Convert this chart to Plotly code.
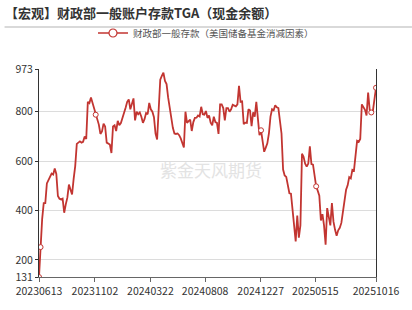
import pandas as pd
import plotly.graph_objects as go

# ---------------- data ----------------
start_date = "2023-06-13"
step = "4D"

seg_2023a = [131, 252, 365, 430, 430, 510, 522, 538, 550, 546, 570, 548, 459, 448, 445, 448,
             391, 425, 452, 505, 484, 465, 528, 580, 670, 674, 680, 675, 678, 700, 690, 840,
             835, 858, 836, 815, 788, 775, 748]
seg_2023b = [710, 720, 752, 740, 675, 670, 667, 633, 740, 745, 722, 763, 746, 754, 772, 790,
             816, 840, 850, 810, 828, 854, 765, 800, 790, 797, 780, 755, 770, 795, 790, 836,
             810, 800, 778, 712, 688, 800]
seg_2024a = [930, 945, 958, 925, 912, 858, 812, 780, 735, 712, 710, 712, 705, 692, 670, 655,
             800, 755, 762, 768, 722, 758, 775, 776, 785, 781, 820, 790, 788, 803, 775, 785,
             756, 745, 780, 758, 755, 710, 830]
seg_2024b = [830, 815, 765, 815, 815, 800, 810, 828, 825, 822, 830, 905, 840, 842, 750, 756,
             755, 810, 805, 742, 798, 780, 840, 782, 705, 725, 676, 638, 655, 672, 712, 780,
             810, 806, 826, 818, 815]
seg_2025a = [770, 712, 566, 542, 536, 505, 470, 468, 400, 362, 275, 380, 290, 340, 630, 618,
             590, 578, 590, 660, 588, 586, 540, 498, 480, 460, 360, 385, 340, 262, 410, 375,
             340, 430, 355, 322, 298, 320]
seg_2025b = [330, 350, 392, 440, 484, 502, 535, 530, 565, 562, 615, 682, 678, 690, 830, 819,
             808, 785, 878, 808, 797, 802, 860, 897]

values = seg_2023a + seg_2023b + seg_2024a + seg_2024b + seg_2025a + seg_2025b
dates = pd.date_range(start_date, periods=len(values), freq=step)
series = pd.Series(values, index=dates)

marker_dates = ["2023-06-13", "2023-06-17", "2023-11-04", "2024-12-28",
                "2025-05-17", "2025-10-04", "2025-10-16"]
tick_dates = ["2023-06-13", "2023-11-02", "2024-03-22", "2024-08-08",
              "2024-12-27", "2025-05-15", "2025-10-16"]
tick_labels = ["20230613", "20231102", "20240322", "20240808",
               "20241227", "20250515", "20251016"]
y_ticks = [131, 200, 400, 600, 800, 973]

title_text = "【宏观】财政部一般账户存款TGA（现金余额）"
series_name = "财政部一般存款（美国储备基金消减因素）"
watermark = "紫金天风期货"

# ---------------- figure ----------------
RED = "#c23531"
FONT = "Noto Sans CJK SC"

W, H = 412, 310
ml, mr, mt, mb = 38.5, 36, 69, 16
pw, ph = W - ml - mr, H - mt - mb

mk = pd.to_datetime(marker_dates)
mk_vals = [series.loc[d] for d in mk]

fig = go.Figure()
fig.add_trace(go.Scatter(
    x=series.index, y=series.values, mode="lines",
    line=dict(color=RED, width=1.8), showlegend=False, hoverinfo="skip"))
fig.add_trace(go.Scatter(
    x=mk, y=mk_vals, mode="markers",
    marker=dict(symbol="circle", size=5, color="white",
                line=dict(color=RED, width=1)),
    showlegend=False, hoverinfo="skip"))
fig.add_trace(go.Scatter(
    x=[None], y=[None], mode="lines+markers", name=series_name,
    line=dict(color=RED, width=1.5),
    marker=dict(symbol="circle", size=8, color="white",
                line=dict(color=RED, width=1.2))))

fig.update_layout(
    width=W, height=H,
    margin=dict(l=ml, r=mr, t=mt, b=mb, pad=0),
    paper_bgcolor="white", plot_bgcolor="white",
    font=dict(family=FONT, color="#333"),
    title=dict(text="<b>" + title_text + "</b>", x=5 / W, xanchor="left",
               y=1 - 13 / H, yanchor="middle", yref="container",
               font=dict(size=13, color="#333", family=FONT)),
    legend=dict(orientation="h", x=206 / W, xanchor="center", xref="container",
                y=1 - 33 / H, yanchor="middle", yref="container",
                font=dict(size=9.5, color="#555", family=FONT),
                itemwidth=30, bgcolor="rgba(0,0,0,0)"),
    xaxis=dict(
        type="date", range=[tick_dates[0], tick_dates[-1]],
        tickvals=tick_dates, ticktext=tick_labels, tickangle=0,
        showgrid=False, zeroline=False,
        showline=True, linecolor="#666", linewidth=1,
        ticks="outside", ticklen=4, tickcolor="#666",
        tickfont=dict(size=10.5, color="#333", family=FONT)),
    yaxis=dict(
        range=[131, 973], tickvals=y_ticks, ticktext=[str(v) for v in y_ticks],
        showgrid=True, gridcolor="#dcdcdc", gridwidth=1, zeroline=False,
        showline=True, linecolor="#333", linewidth=1, mirror=True,
        ticks="outside", ticklen=3, tickcolor="#333",
        tickfont=dict(size=10.5, color="#333", family=FONT)),
    shapes=[dict(type="line", xref="paper", yref="paper",
                 x0=(4 - ml) / pw, x1=(412 - ml) / pw,
                 y0=(H - mb - 23.5) / ph, y1=(H - mb - 23.5) / ph,
                 line=dict(color="#cccccc", width=1.5))],
    annotations=[dict(text=watermark, xref="paper", yref="paper",
                      x=(211 - ml) / pw, y=(H - mb - 178) / ph,
                      showarrow=False,
                      font=dict(size=17, color="#e3e3e3", family=FONT))],
)

fig.write_html("out.html")
